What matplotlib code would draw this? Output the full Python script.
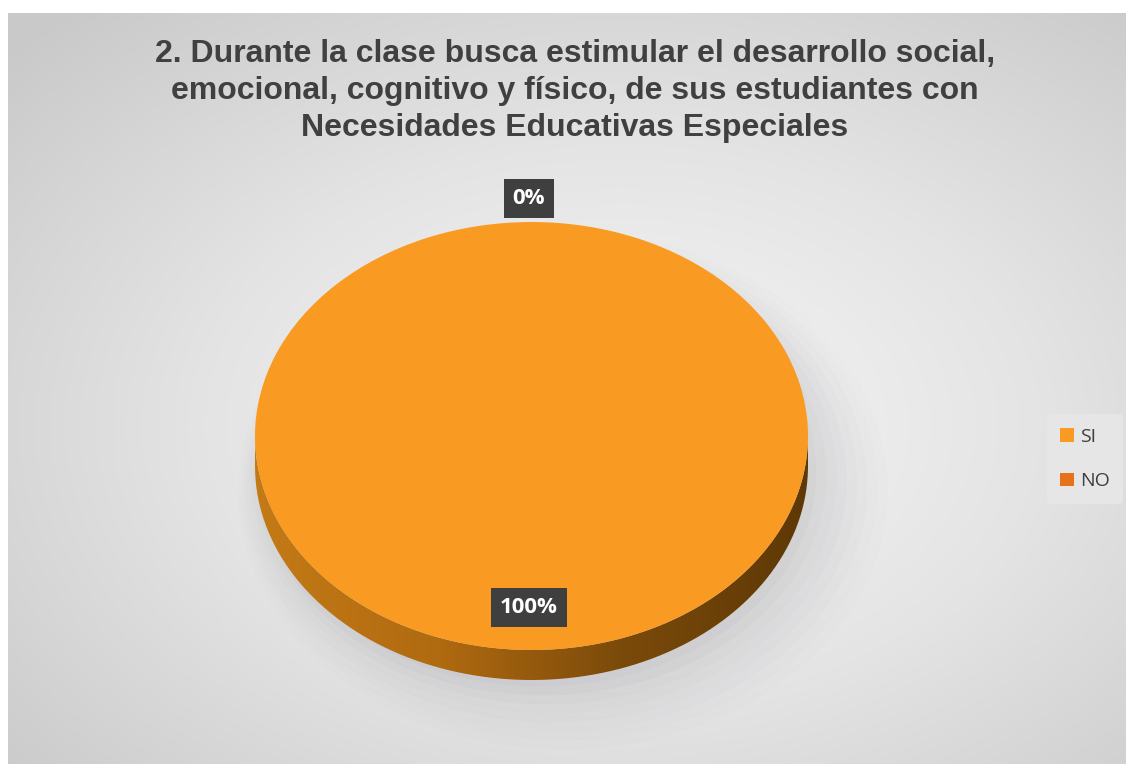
import matplotlib.pyplot as plt
import numpy as np
from matplotlib.colors import LinearSegmentedColormap
from matplotlib.path import Path
from matplotlib.patches import PathPatch, Ellipse

# datos
categorias = ['SI', 'NO']
valores = [100, 0]
colores = ['#F99A22', '#E8711C']
etiquetas = ['100%', '0%']
titulo = ('2. Durante la clase busca estimular el desarrollo social,\n'
          'emocional, cognitivo y físico, de sus estudiantes con\n'
          'Necesidades Educativas Especiales')

W, H = 1126, 764
fig = plt.figure(figsize=(W / 100, H / 100), dpi=100)
fig.patch.set_facecolor('white')

# fondo con degradado radial
ax_bg = fig.add_axes([8 / W, 0, 1 - 8 / W, (H - 13) / H])
ax_bg.set_axis_off()
yy, xx = np.mgrid[0:1:300j, 0:1:400j]
rr = np.sqrt(((xx - 0.55) / 0.75) ** 2 + ((yy - 0.45) / 0.75) ** 2)
bg = LinearSegmentedColormap.from_list('bg', ['#f7f7f7', '#e4e4e4', '#c9c9c9'])
ax_bg.imshow(rr, cmap=bg, vmin=0, vmax=1.0, aspect='auto', extent=[0, 1, 0, 1],
             origin='lower')
ax_bg.set_xlim(0, 1)
ax_bg.set_ylim(0, 1)

# ejes del pastel (elipse: x 255-808 px, cara superior y 222-650 px)
px_x0, px_x1 = 255, 808
px_top, px_bot = 222, 650
unit_y = (px_bot - px_top) / 2
depth = 30 / unit_y
ymin = -1 - depth - 0.25
bottom_px = (H - px_bot) + (ymin + 1) * unit_y
ax = fig.add_axes([px_x0 / W, bottom_px / H, (px_x1 - px_x0) / W,
                   (H - px_top - bottom_px) / H])
ax.set_axis_off()
ax.patch.set_alpha(0)

# cara superior
wedges, _ = ax.pie(valores, colors=colores, startangle=90, counterclock=False,
                   radius=1, wedgeprops=dict(edgecolor='none', linewidth=0))
for w in wedges:
    w.set_zorder(2)

# sombra suave
for i, a in enumerate(np.linspace(0.06, 0.015, 8)):
    ax.add_patch(Ellipse((0.03 + 0.012 * i, -depth - 0.03 - 0.012 * i), 2.0 + 0.05 * i,
                         2.0 + 0.06 * i, facecolor='#9a9aa2', edgecolor='none',
                         alpha=a, zorder=0, clip_on=False))

# lado del pastel
t = np.linspace(np.pi, 2 * np.pi, 200)
xs = np.concatenate([np.cos(t), np.cos(t[::-1])])
ys = np.concatenate([np.sin(t) - depth, np.sin(t[::-1])])
lado = PathPatch(Path(np.column_stack([xs, ys])), facecolor='none', edgecolor='none')
ax.add_patch(lado)
side_cm = LinearSegmentedColormap.from_list('side', ['#C47A16', '#B06A10', '#7a4a0a', '#5e3806'])
grad = np.tile(np.linspace(0, 1, 256), (2, 1))
img = ax.imshow(grad, cmap=side_cm, aspect='auto', extent=[-1, 1, -1 - depth, 0.1],
                zorder=1)
img.set_clip_path(lado)
ax.set_aspect('auto')
ax.set_xlim(-1, 1)
ax.set_ylim(ymin, 1)

# etiquetas de datos
distancias = [0.80, 1.11]
for w, etq, d in zip(wedges, etiquetas, distancias):
    ang = np.deg2rad((w.theta1 + w.theta2) / 2)
    if w.theta2 - w.theta1 >= 359:
        ang = np.deg2rad(-90)
    ax.text(d * np.cos(ang) - 0.01, d * np.sin(ang), etq, ha='center', va='center',
            fontsize=16, fontweight='bold', color='white', family='Open Sans',
            zorder=5, clip_on=False,
            bbox=dict(boxstyle='square,pad=0.4', facecolor='#3f3f3f', edgecolor='none'))

# titulo
fig.text(575 / W, 1 - 91 / H, titulo, ha='center', va='center', fontsize=23,
         fontweight='bold', color='#404040', family='Liberation Sans', linespacing=1.32)

# leyenda
handles = [plt.Rectangle((0, 0), 1, 1, facecolor=c, edgecolor='none') for c in colores]
leg = fig.legend(handles, categorias, loc='center', bbox_to_anchor=(1085 / W, 1 - 459 / H),
                 frameon=True, handlelength=0.7, handleheight=0.7,
                 handletextpad=0.3, labelspacing=1.35, borderpad=0.7,
                 prop={'family': 'Open Sans', 'size': 14})
leg.get_frame().set_facecolor('#e6e6e6')
leg.get_frame().set_edgecolor('none')
leg.get_frame().set_alpha(1)
for txt in leg.get_texts():
    txt.set_color('#404040')

fig.savefig('out.png', dpi=100)
